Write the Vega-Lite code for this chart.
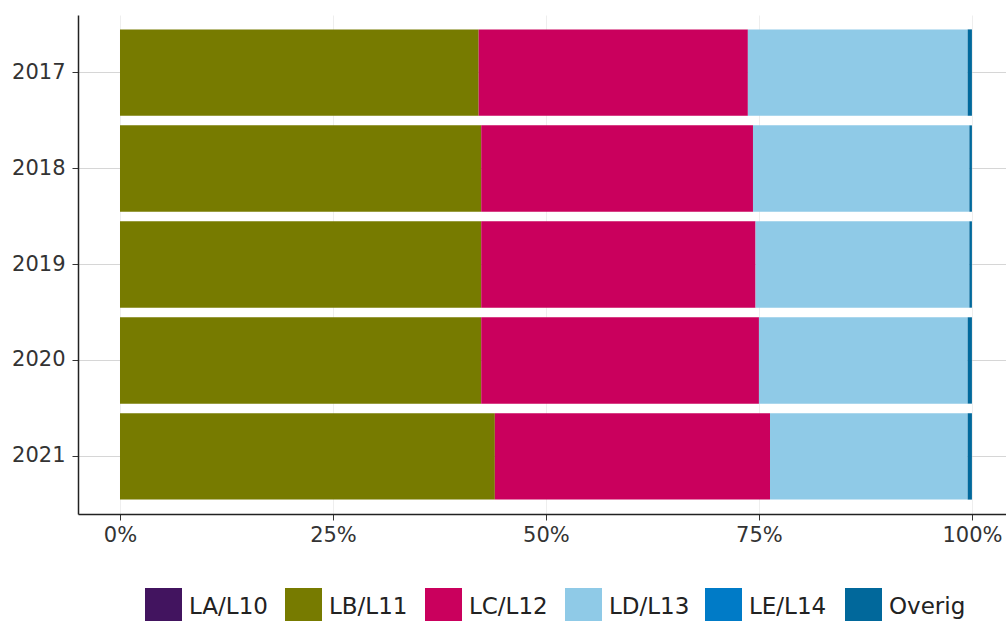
{
  "$schema": "https://vega.github.io/schema/vega-lite/v6.json",
  "width": 928,
  "height": 499,
  "autosize": {"type": "none"},
  "padding": {"left": 78, "top": 15, "right": 0, "bottom": 107},
  "background": "white",
  "config": {
    "view": {"stroke": null},
    "font": "DejaVu Sans"
  },
  "data": {
    "values": [
      {"jaar": "2017", "leerweg": "LA/L10", "pct": 0.0},
      {"jaar": "2017", "leerweg": "LB/L11", "pct": 42.1},
      {"jaar": "2017", "leerweg": "LC/L12", "pct": 31.6},
      {"jaar": "2017", "leerweg": "LD/L13", "pct": 25.8},
      {"jaar": "2017", "leerweg": "LE/L14", "pct": 0.0},
      {"jaar": "2017", "leerweg": "Overig", "pct": 0.5},
      {"jaar": "2018", "leerweg": "LA/L10", "pct": 0.0},
      {"jaar": "2018", "leerweg": "LB/L11", "pct": 42.4},
      {"jaar": "2018", "leerweg": "LC/L12", "pct": 31.9},
      {"jaar": "2018", "leerweg": "LD/L13", "pct": 25.4},
      {"jaar": "2018", "leerweg": "LE/L14", "pct": 0.0},
      {"jaar": "2018", "leerweg": "Overig", "pct": 0.3},
      {"jaar": "2019", "leerweg": "LA/L10", "pct": 0.0},
      {"jaar": "2019", "leerweg": "LB/L11", "pct": 42.4},
      {"jaar": "2019", "leerweg": "LC/L12", "pct": 32.2},
      {"jaar": "2019", "leerweg": "LD/L13", "pct": 25.1},
      {"jaar": "2019", "leerweg": "LE/L14", "pct": 0.0},
      {"jaar": "2019", "leerweg": "Overig", "pct": 0.3},
      {"jaar": "2020", "leerweg": "LA/L10", "pct": 0.0},
      {"jaar": "2020", "leerweg": "LB/L11", "pct": 42.4},
      {"jaar": "2020", "leerweg": "LC/L12", "pct": 32.6},
      {"jaar": "2020", "leerweg": "LD/L13", "pct": 24.5},
      {"jaar": "2020", "leerweg": "LE/L14", "pct": 0.0},
      {"jaar": "2020", "leerweg": "Overig", "pct": 0.5},
      {"jaar": "2021", "leerweg": "LA/L10", "pct": 0.0},
      {"jaar": "2021", "leerweg": "LB/L11", "pct": 44.0},
      {"jaar": "2021", "leerweg": "LC/L12", "pct": 32.3},
      {"jaar": "2021", "leerweg": "LD/L13", "pct": 23.2},
      {"jaar": "2021", "leerweg": "LE/L14", "pct": 0.0},
      {"jaar": "2021", "leerweg": "Overig", "pct": 0.5}
    ]
  },
  "mark": {"type": "bar", "strokeWidth": 0},
  "encoding": {
    "y": {
      "field": "jaar",
      "type": "nominal",
      "sort": ["2017", "2018", "2019", "2020", "2021"],
      "scale": {"paddingInner": 0.1, "paddingOuter": 0.15},
      "axis": {
        "title": null,
        "domainColor": "#222222",
        "domainWidth": 1.5,
        "tickColor": "#333333",
        "tickSize": 6,
        "tickWidth": 1,
        "labelFontSize": 21,
        "labelColor": "#333333",
        "labelPadding": 7,
        "grid": true,
        "gridColor": "#d6d6d6",
        "gridWidth": 1
      }
    },
    "x": {
      "field": "pct",
      "type": "quantitative",
      "stack": "zero",
      "scale": {"domain": [-4.93, 104], "nice": false, "zero": false},
      "axis": {
        "title": null,
        "values": [0, 25, 50, 75, 100],
        "labelExpr": "datum.value + '%'",
        "domainColor": "#222222",
        "domainWidth": 1.5,
        "tickColor": "#333333",
        "tickSize": 6,
        "labelFontSize": 21,
        "labelColor": "#333333",
        "labelPadding": 4,
        "grid": true,
        "gridColor": "#eeeeee",
        "gridWidth": 1
      }
    },
    "color": {
      "field": "leerweg",
      "type": "nominal",
      "sort": ["LA/L10", "LB/L11", "LC/L12", "LD/L13", "LE/L14", "Overig"],
      "scale": {
        "domain": ["LA/L10", "LB/L11", "LC/L12", "LD/L13", "LE/L14", "Overig"],
        "range": ["#42145F", "#777B00", "#CA005D", "#8FCAE7", "#007BC7", "#01689B"]
      },
      "legend": {
        "title": null,
        "orient": "none",
        "legendX": 67,
        "legendY": 573,
        "direction": "horizontal",
        "columns": 6,
        "gridAlign": "all",
        "padding": 0,
        "symbolType": "square",
        "symbolSize": 1369,
        "symbolStrokeWidth": 0,
        "symbolOpacity": 1,
        "labelFontSize": 23,
        "labelColor": "#222222",
        "labelOffset": 7,
        "columnPadding": 15,
        "labelLimit": 200
      }
    },
    "order": {"field": "leerweg", "sort": "ascending"}
  }
}
